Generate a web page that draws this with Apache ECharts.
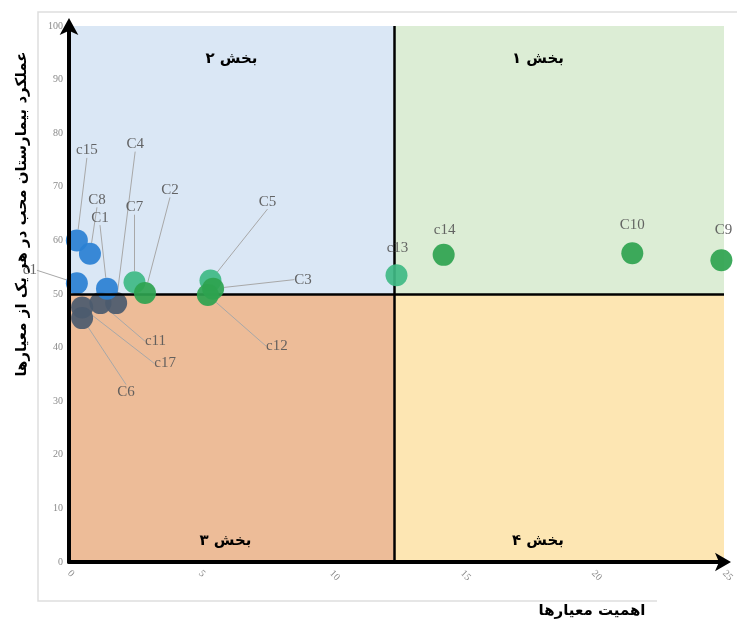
<!DOCTYPE html>
<html>
<head>
<meta charset="utf-8">
<script src="https://cdn.jsdelivr.net/npm/echarts@6/dist/echarts.min.js"></script>
<style>
  html, body { margin: 0; padding: 0; background: #fff; }
  #main { width: 737px; height: 621px; }
</style>
</head>
<body>
<div id="main"></div>
<script>
// criteria (x = importance, y = performance)
var blueNames = ['c15', 'C8', 'c1', 'C1'];
var blueX = [0.3, 0.8, 0.3, 1.45];
var blueY = [60, 57.5, 52, 51];

var darkNames = ['C4', 'c11', 'c17', 'C6'];
var darkX = [1.8, 1.2, 0.5, 0.5];
var darkY = [48.3, 48.3, 47.5, 45.5];

var lightGreenNames = ['C7', 'C5', 'c13'];
var lightGreenX = [2.5, 5.4, 12.5];
var lightGreenY = [52.2, 52.5, 53.5];

var greenNames = ['C2', 'C3', 'c12', 'c14', 'C10', 'C9'];
var greenX = [2.9, 5.5, 5.3, 14.3, 21.5, 24.9];
var greenY = [50.2, 51, 49.8, 57.3, 57.6, 56.3];

var xTicks = [0, 5, 10, 15, 20, 25];
var yTicks = [0, 10, 20, 30, 40, 50, 60, 70, 80, 90, 100];
var splitX = 12.4;
var splitY = 50;

var quadrantNames = ['بخش ۱', 'بخش ۲', 'بخش ۳', 'بخش ۴'];
var xTitle = 'اهمیت معیارها';
var yTitle = 'عملکرد بیمارستان محب در هر یک از معیارها';

// where each label sits relative to its point (pixels)
var labelOffset = {
    c15: [10, -90], C8: [7, -54], c1: [-47, -13], C1: [-7, -71],
    C4: [19, -159], c11: [55, 38], c17: [83, 56], C6: [44, 74],
    C7: [0, -75], C5: [57, -79], c13: [1, -27],
    C2: [25, -103], C3: [90, -9], c12: [69, 51], c14: [1, -25], C10: [0, -28], C9: [2, -30]
};
var noLine = { c13: 1, c14: 1, C10: 1, C9: 1 };

function pts(names, xs, ys) {
    var out = [];
    for (var i = 0; i < names.length; i++) {
        out.push({ name: names[i], value: [xs[i], ys[i]], labelLine: { show: !noLine[names[i]] } });
    }
    return out;
}

function layout(names) {
    return function (p) {
        var o = labelOffset[names[p.dataIndex]] || [0, 0];
        return { dx: o[0], dy: o[1] };
    };
}

var pointLabel = {
    show: true,
    position: 'inside',
    formatter: '{b}',
    color: '#585858',
    fontFamily: 'Liberation Serif',
    fontSize: 15
};
var guide = { show: true, smooth: false, length2: 0, lineStyle: { color: '#a8a8a8', width: 1 } };

function scatter(names, xs, ys, color, z) {
    return {
        type: 'scatter',
        symbolSize: 22,
        z: z,
        itemStyle: { color: color, opacity: 0.92 },
        label: pointLabel,
        labelLine: guide,
        labelLayout: layout(names),
        data: pts(names, xs, ys)
    };
}

var qTitle = { show: true, color: '#000', fontFamily: 'DejaVu Sans', fontWeight: 'bold', fontSize: 15 };

var chart = echarts.init(document.getElementById('main'));

var option = {
    backgroundColor: '#fff',
    animation: false,
    grid: { left: 69, right: 13, top: 26, bottom: 59 },
    xAxis: {
        type: 'value',
        z: 10,
        min: 0,
        max: 25,
        interval: 5,
        axisLine: {
            show: true,
            symbol: ['none', 'arrow'],
            symbolSize: [14, 16],
            symbolOffset: [0, 7],
            lineStyle: { color: '#000', width: 4 }
        },
        axisTick: { show: false },
        splitLine: { show: false },
        axisLabel: {
            rotate: -45,
            margin: 10,
            color: '#8a8a8a',
            fontFamily: 'Liberation Serif',
            fontSize: 10,
            formatter: function (v) { return xTicks.indexOf(v) >= 0 ? String(v) : ''; }
        }
    },
    yAxis: {
        type: 'value',
        z: 10,
        min: 0,
        max: 100,
        interval: 10,
        axisLine: {
            show: true,
            symbol: ['none', 'arrow'],
            symbolSize: [14, 17],
            symbolOffset: [0, 8],
            lineStyle: { color: '#000', width: 4 }
        },
        axisTick: { show: false },
        splitLine: { show: false },
        axisLabel: {
            margin: 6,
            color: '#8a8a8a',
            fontFamily: 'Liberation Serif',
            fontSize: 10,
            formatter: function (v) { return yTicks.indexOf(v) >= 0 ? String(v) : ''; }
        }
    },
    graphic: [
        {
            type: 'polyline',
            silent: true,
            z: -1,
            shape: { points: [[737, 12], [38, 12], [38, 601], [657, 601]] },
            style: { stroke: '#dedede', lineWidth: 1.5, fill: null }
        },
        {
            type: 'text',
            x: 22,
            y: 214,
            rotation: Math.PI / 2,
            style: {
                text: yTitle,
                fill: '#000',
                font: 'bold 15px "DejaVu Sans"',
                align: 'center',
                verticalAlign: 'middle'
            }
        },
        {
            type: 'text',
            x: 592,
            y: 611,
            style: {
                text: xTitle,
                fill: '#000',
                font: 'bold 15px "DejaVu Sans"',
                align: 'center',
                verticalAlign: 'middle'
            }
        }
    ],
    series: [
        {
            type: 'scatter',
            data: [],
            z: 1,
            markArea: {
                silent: true,
                data: [
                    [{ xAxis: splitX, yAxis: splitY, itemStyle: { color: '#dcedd5' },
                       label: Object.assign({ formatter: quadrantNames[0], position: 'insideTop', distance: 26, offset: [-21, 0] }, qTitle) },
                     { xAxis: 25, yAxis: 100 }],
                    [{ xAxis: 0, yAxis: splitY, itemStyle: { color: '#dae7f5' },
                       label: Object.assign({ formatter: quadrantNames[1], position: 'insideTop', distance: 26 }, qTitle) },
                     { xAxis: splitX, yAxis: 100 }],
                    [{ xAxis: 0, yAxis: 0, itemStyle: { color: '#edbc98' },
                       label: Object.assign({ formatter: quadrantNames[2], position: 'insideBottom', distance: 13, offset: [-6, 0] }, qTitle) },
                     { xAxis: splitX, yAxis: splitY }],
                    [{ xAxis: splitX, yAxis: 0, itemStyle: { color: '#fde6b3' },
                       label: Object.assign({ formatter: quadrantNames[3], position: 'insideBottom', distance: 13, offset: [-21, 0] }, qTitle) },
                     { xAxis: 25, yAxis: splitY }]
                ]
            },
            markLine: {
                silent: true,
                symbol: 'none',
                label: { show: false },
                lineStyle: { color: '#000', type: 'solid', width: 2.5 },
                data: [{ xAxis: splitX }, { yAxis: splitY }]
            }
        },
        scatter(darkNames, darkX, darkY, '#4b5a6e', 3),
        scatter(blueNames, blueX, blueY, '#2a80d3', 4),
        scatter(lightGreenNames, lightGreenX, lightGreenY, '#3fba84', 5),
        scatter(greenNames, greenX, greenY, '#2ea34f', 6)
    ]
};

chart.setOption(option);
</script>
</body>
</html>
